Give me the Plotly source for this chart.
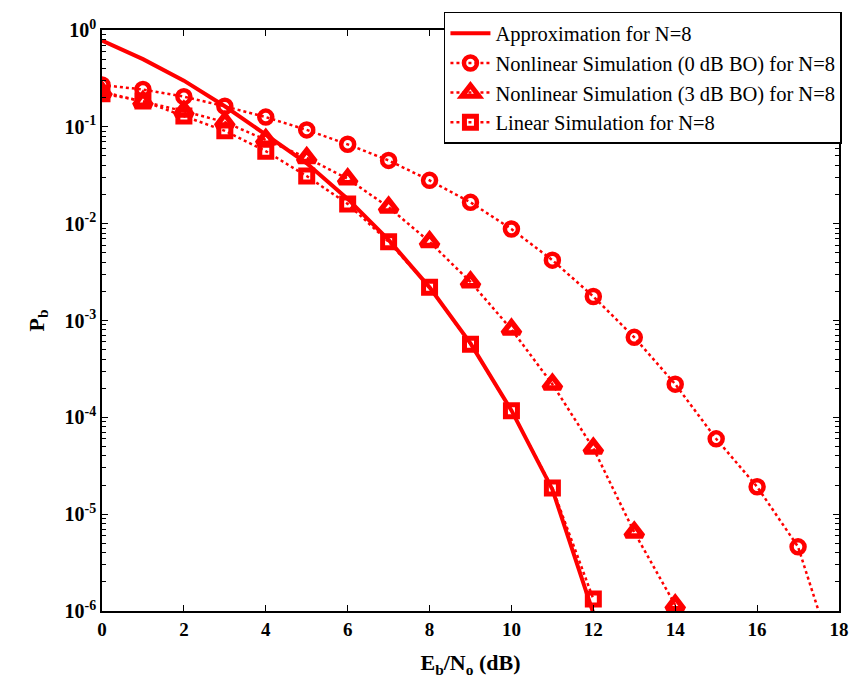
import plotly.graph_objects as go

approx_x = list(range(0, 13))
approx_y = [0.78, 0.50, 0.30, 0.163, 0.083, 0.042, 0.018, 0.0068, 0.0022,
            0.00058, 0.000118, 1.8e-5, 9.5e-7]

nl0_x = list(range(0, 19))
nl0_y = [0.27, 0.243, 0.205, 0.163, 0.126, 0.093, 0.066, 0.045, 0.028,
         0.0166, 0.0088, 0.0042, 0.00177, 6.7e-4, 2.2e-4, 6.0e-5, 1.92e-5,
         4.6e-6, 2.2e-7]

nl3_x = list(range(0, 15))
nl3_y = [0.23, 0.183, 0.145, 0.112, 0.074, 0.048, 0.029, 0.0148, 0.0065,
         0.0025, 8.1e-4, 2.2e-4, 4.8e-5, 6.5e-6, 1.15e-6]

lin_x = list(range(0, 13))
lin_y = [0.22, 0.185, 0.129, 0.091, 0.056, 0.031, 0.016, 0.0065, 0.0022,
         0.00057, 1.17e-4, 1.86e-5, 1.33e-6]

names = ["Approximation for N=8",
         "Nonlinear Simulation (0 dB BO) for N=8",
         "Nonlinear Simulation (3 dB BO) for N=8",
         "Linear Simulation for N=8"]

red = "#ff0000"
fig = go.Figure()
fig.add_trace(go.Scatter(x=approx_x, y=approx_y, mode="lines", name=names[0],
                         line=dict(color=red, width=4)))
fig.add_trace(go.Scatter(x=nl0_x, y=nl0_y, mode="lines+markers", name=names[1],
                         line=dict(color=red, width=2.5, dash="dot"),
                         marker=dict(symbol="circle-open", size=13, color=red,
                                     line=dict(width=4.5, color=red))))
fig.add_trace(go.Scatter(x=nl3_x, y=nl3_y, mode="lines+markers", name=names[2],
                         line=dict(color=red, width=2.5, dash="dot"),
                         marker=dict(symbol="triangle-up-open", size=15, color=red,
                                     line=dict(width=5.5, color=red))))
fig.add_trace(go.Scatter(x=lin_x, y=lin_y, mode="lines+markers", name=names[3],
                         line=dict(color=red, width=2.5, dash="dot"),
                         marker=dict(symbol="square-open", size=12, color=red,
                                     line=dict(width=5, color=red))))

ytick_vals = [10 ** e for e in range(-6, 1)]
ytick_text = ["10<sup>%d</sup>" % e for e in range(-6, 1)]
minor_vals = [m * 10 ** e for e in range(-6, 0) for m in range(2, 10)]

font_main = "Liberation Serif"
fig.update_layout(
    width=861, height=683,
    margin=dict(l=102, r=14, t=26, b=71),
    paper_bgcolor="white", plot_bgcolor="white",
    font=dict(family=font_main, color="black"),
    showlegend=True,
    legend=dict(x=1.004, y=1.031, xanchor="right", yanchor="top",
                bordercolor="black", borderwidth=1.5, bgcolor="white",
                font=dict(family=font_main, size=20.5, color="black"),
                tracegroupgap=0, itemwidth=40),
    xaxis=dict(range=[0, 18], tickvals=list(range(0, 19, 2)),
               ticks="inside", ticklen=6, tickcolor="black",
               showline=True, linecolor="black", linewidth=1.5, mirror="ticks",
               showgrid=False, zeroline=False,
               tickfont=dict(family=font_main, size=19, color="black", weight="bold"),
               title=dict(text="<b>E<sub>b</sub>/N<sub>o</sub> (dB)</b>",
                          font=dict(family=font_main, size=22, color="black"),
                          standoff=16)),
    yaxis=dict(type="log", range=[-6, 0], tickvals=ytick_vals, ticktext=ytick_text,
               ticks="inside", ticklen=6, tickcolor="black",
               minor=dict(tickvals=minor_vals, ticks="inside", ticklen=4,
                          tickcolor="black", showgrid=False),
               showline=True, linecolor="black", linewidth=1.5, mirror="ticks",
               showgrid=False, zeroline=False,
               tickfont=dict(family=font_main, size=20, color="black", weight="bold"),
               title=dict(text="<b>P<sub>b</sub></b>",
                          font=dict(family=font_main, size=22, color="black"),
                          standoff=14)),
)

fig.write_html("out.html")
